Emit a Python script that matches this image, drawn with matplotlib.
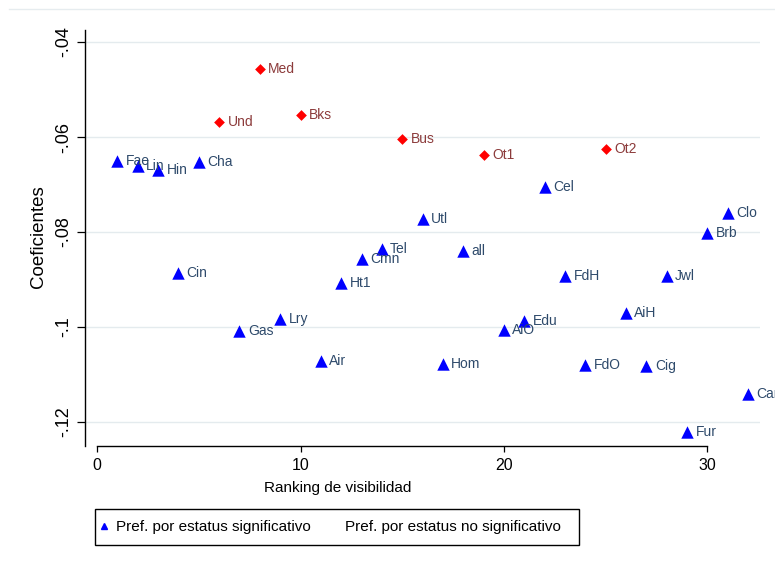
import matplotlib.pyplot as plt
from matplotlib.lines import Line2D
from matplotlib.patches import Rectangle

plt.rcParams['font.family'] = ['Liberation Sans', 'DejaVu Sans']

# Significant status preference (blue triangles)
sig_names = ["Fae", "Lin", "Hin", "Cin", "Cha", "Gas", "Lry", "Air", "Ht1", "Cmn",
             "Tel", "Utl", "Hom", "all", "AiO", "Edu", "Cel", "FdH", "FdO", "AiH",
             "Cig", "Jwl", "Fur", "Brb", "Clo", "Car"]
sig_rank = [1, 2, 3, 4, 5, 7, 9, 11, 12, 13,
            14, 16, 17, 18, 20, 21, 22, 23, 24, 26,
            27, 28, 29, 30, 31, 32]
sig_coef = [-0.0651, -0.0661, -0.0669, -0.0886, -0.0653, -0.1008, -0.0983, -0.1072, -0.0907, -0.0857,
            -0.0836, -0.0773, -0.1078, -0.0840, -0.1006, -0.0987, -0.0705, -0.0893, -0.1080, -0.0971,
            -0.1082, -0.0893, -0.1221, -0.0802, -0.0760, -0.1141]

# Non significant status preference (red diamonds)
ns_names = ["Und", "Med", "Bks", "Bus", "Ot1", "Ot2"]
ns_rank = [6, 8, 10, 15, 19, 25]
ns_coef = [-0.0568, -0.0457, -0.0554, -0.0604, -0.0638, -0.0625]

yticks = [-0.04, -0.06, -0.08, -0.1, -0.12]
ytick_labels = ["-.04", "-.06", "-.08", "-.1", "-.12"]
xticks = [0, 10, 20, 30]

W, H = 775, 564
fig = plt.figure(figsize=(W / 100, H / 100), dpi=100)
ax = fig.add_axes([85 / W, (H - 446) / H, (760 - 85) / W, (446 - 30) / H])

ax.scatter(sig_rank, sig_coef, marker="^", s=80, color="#0000ff", zorder=3, linewidths=0)
ax.scatter(ns_rank, ns_coef, marker="D", s=30, color="#ff0000", zorder=3, linewidths=0)

for name, x, y in zip(sig_names, sig_rank, sig_coef):
    ax.annotate(name, (x, y), xytext=(6, 0), textcoords="offset points",
                va="center", ha="left", fontsize=10, color="#2e4a6b",
                annotation_clip=False)
for name, x, y in zip(ns_names, ns_rank, ns_coef):
    ax.annotate(name, (x, y), xytext=(6, 0), textcoords="offset points",
                va="center", ha="left", fontsize=10, color="#8c3b3b",
                annotation_clip=False)

ax.set_xlim(-0.59, 32.58)
ax.set_ylim(-0.12505, -0.03747)

ax.spines["top"].set_visible(False)
ax.spines["right"].set_visible(False)
ax.spines["bottom"].set_bounds(0, 30)
for s in ("left", "bottom"):
    ax.spines[s].set_linewidth(1.0)

ax.set_yticks(yticks)
ax.set_yticklabels(ytick_labels, rotation=90, va="center", fontsize=13)
ax.set_xticks(xticks)
ax.tick_params(axis="x", length=4.5, width=0.9, pad=4, labelsize=11.5)
ax.tick_params(axis="y", length=5.5, width=0.9, pad=4)
ax.yaxis.grid(True, color="#e4ebee", linewidth=1)
ax.set_axisbelow(True)

fig.text(338 / W, 1 - 488 / H, "Ranking de visibilidad", ha="center", va="center", fontsize=11)
fig.text(39 / W, 1 - 237 / H, "Coeficientes", ha="center", va="center", rotation=90, fontsize=13.5)

# faint border line at the top of the graph region
fig.add_artist(Line2D([9 / W, 1], [1 - 9 / H, 1 - 9 / H], color="#e6ecef", lw=1,
                      transform=fig.transFigure))

# legend
fig.add_artist(Rectangle((95 / W, 1 - 545 / H), (579 - 95) / W, 36 / H,
                         transform=fig.transFigure, fill=False, edgecolor="black", lw=1))
handles = [
    Line2D([], [], marker="^", ls="none", color="#0000ff", markersize=5),
    Line2D([], [], marker="D", ls="none", color="none", markersize=4),
]
fig.legend(handles, ["Pref. por estatus significativo", "Pref. por estatus no significativo"],
           loc="center left", bbox_to_anchor=(98 / W, 1 - 527 / H), ncol=2, frameon=False,
           fontsize=11, handlelength=0.75, handletextpad=0.45, columnspacing=1.0,
           borderaxespad=0, borderpad=0)

fig.savefig("out.png", dpi=100)
